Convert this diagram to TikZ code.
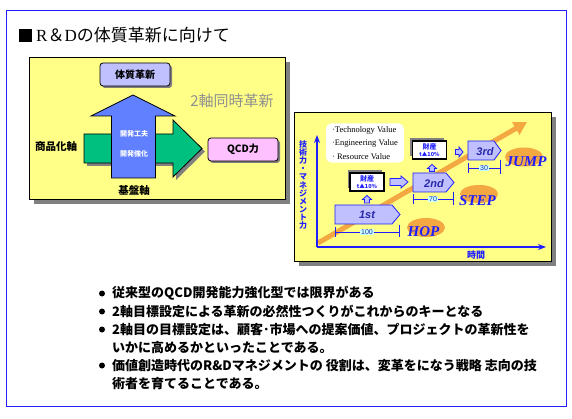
\documentclass[tikz,border=0pt]{standalone}
\usepackage{fontspec}
\setmainfont{Liberation Serif}
\newfontfamily\jp{Noto Sans CJK JP}
\newfontfamily\lsans{Liberation Sans}
\usetikzlibrary{arrows.meta,shadows,calc}
\definecolor{frameblue}{HTML}{2020FF}
\definecolor{panelyellow}{HTML}{FFFF88}
\definecolor{lav}{HTML}{C0C0FF}
\definecolor{pinkfill}{HTML}{FFC0FF}
\definecolor{greenarr}{HTML}{00C080}
\definecolor{bluearr}{HTML}{6080FF}
\definecolor{orangec}{HTML}{F4A842}
\definecolor{shadowgray}{HTML}{808080}
\definecolor{axisblue}{HTML}{1E1EFF}
\definecolor{navy}{HTML}{2828A8}
\definecolor{dimcyan}{HTML}{C8FFFF}
\definecolor{graytext}{HTML}{909090}
\tikzset{
  panel/.style={draw=black, line width=0.8pt, fill=panelyellow},
  boxshadow/.style={drop shadow={shadow xshift=2pt, shadow yshift=-2pt, fill=shadowgray, opacity=1}},
  lavbox/.style={draw=black, line width=0.8pt, fill=lav, rounded corners=3pt,
    minimum width=70pt, minimum height=23pt, boxshadow,
    font=\jp\bfseries\fontsize{10}{12}\selectfont},
  pinkbox/.style={lavbox, fill=pinkfill},
  blacklbl/.style={inner sep=0pt, font=\jp\bfseries\fontsize{10.5}{12}\selectfont},
  whitelbl/.style={inner sep=0pt, text=white, font=\jp\bfseries\fontsize{7}{8}\selectfont},
  graylbl/.style={inner sep=0pt, text=graytext, font=\jp\fontsize{15}{16}\selectfont},
  valbox/.style={fill=white, rounded corners=5pt, align=left, inner xsep=6pt, inner ysep=3pt,
    font=\fontsize{8.5}{13.5}\selectfont},
  axis/.style={draw=axisblue, line width=1.8pt, -{Stealth[length=8pt,width=6pt]}},
  penta/.style={draw=axisblue, line width=0.8pt, fill=lav},
  stagelbl/.style={inner sep=0pt, text=navy, font=\lsans\bfseries\itshape\fontsize{11}{12}\selectfont},
  dimline/.style={draw=axisblue, line width=0.8pt},
  dimlbl/.style={fill=dimcyan, inner sep=1pt, text=navy, font=\lsans\fontsize{7}{7}\selectfont},
  smallbox/.style={draw=black, line width=1.2pt, fill=white, align=center,
    minimum width=34pt, minimum height=18pt, inner sep=1pt, text=axisblue,
    font=\jp\bfseries\fontsize{7}{7.5}\selectfont,
    drop shadow={shadow xshift=-2.5pt, shadow yshift=2.5pt, fill=shadowgray, opacity=1}},
  blockarr/.style={draw=axisblue, line width=0.8pt, fill=lav},
  hopell/.style={fill=orangec},
  hoplbl/.style={inner sep=0pt, text=axisblue, font=\bfseries\itshape\fontsize{15}{16}\selectfont},
  bullettext/.style={anchor=west, inner sep=0pt, font=\jp\bfseries\fontsize{13}{14}\selectfont}
}
\begin{document}
\begin{tikzpicture}[x=1pt,y=-1pt]
\useasboundingbox (0,0) rectangle (572,419);
\fill[white] (0,0) rectangle (572,419);
\draw[frameblue, line width=1pt] (6,11) rectangle (566,406);
% title
\fill[black] (19,29) rectangle (32,42);
\node[anchor=base west, inner sep=0pt, font=\fontsize{17}{20}\selectfont] (title) at (36,42) {R{\jp ＆}D{\jp の体質革新に向けて}};
% ---------- left panel ----------
\fill[shadowgray] (34,62) rectangle (290,204);
\draw[panel] (29,57) rectangle (285,199);
\fill[shadowgray] (87,137) -- (176,137) -- (176,123) -- (205,151.5) -- (176,180) -- (176,166) -- (87,166) -- cycle;
\draw[black, line width=0.8pt, fill=greenarr] (84,134) -- (173,134) -- (173,120) -- (202,148.5) -- (173,177) -- (173,163) -- (84,163) -- cycle;
\draw[black, line width=0.8pt, fill=bluearr] (111.5,178) -- (111.5,116) -- (91,116) -- (133,95) -- (175,116) -- (155.5,116) -- (155.5,178) -- cycle;
\node[lavbox] (taishitsu) at (135,74.5) {体質革新};
\node[pinkbox] (qcd) at (243,149.5) {QCD力};
\node[blacklbl] (shohin) at (56,147) {商品化軸};
\node[blacklbl] (kiban) at (134,191) {基盤軸};
\node[whitelbl] (kufu) at (134,134) {開発工夫};
\node[whitelbl] (kyoka) at (134,154) {開発強化};
\node[graylbl] (doji) at (232,101) {2軸同時革新};
% ---------- right panel ----------
\fill[shadowgray] (299,117) rectangle (556,266);
\draw[panel] (294,112) rectangle (551,261);
\node[valbox] (values) at (365,143) {·Technology Value\\·Engineering Value\\· Resource Value};
% orange growth arrow
\coordinate (ostart) at (318,243);
\coordinate (oend) at (527,122);
\draw[orangec, line width=5pt, -{Triangle[width=14pt,length=13pt]}] (ostart) -- (oend);
% axes
\coordinate (orig) at (317,247);
\coordinate (xend) at (546,247);
\coordinate (yend) at (317,135);
\draw[axis] (orig) -- (xend);
\draw[axis] (orig) -- (yend);
\node[inner sep=0pt, align=center, text=axisblue, font=\jp\bfseries\fontsize{8}{8.1}\selectfont] (ylab) at (303,185) {技\\術\\力\\・\\マ\\ネ\\ジ\\メ\\ン\\ト\\力};
\node[inner sep=0pt, text=axisblue, font=\jp\bfseries\fontsize{9}{9}\selectfont] (jikan) at (476,255) {時間};
% ellipses
\fill[hopell] (426,227.5) ellipse [x radius=19pt, y radius=9.5pt];
\fill[hopell] (479,194) ellipse [x radius=19pt, y radius=9pt];
\fill[hopell] (524,157) ellipse [x radius=19pt, y radius=9.5pt];
% stages
\draw[penta] (335,205) -- (392,205) -- (400,214.5) -- (392,224) -- (335,224) -- cycle;
\node[stagelbl] (first) at (367,215) {1st};
\draw[penta] (413,173) -- (446,173) -- (454,182.5) -- (446,192) -- (413,192) -- cycle;
\node[stagelbl] (second) at (434,184) {2nd};
\draw[penta] (468,141) -- (494,141) -- (501,150.5) -- (494,160) -- (468,160) -- cycle;
\node[stagelbl] (third) at (485,152) {3rd};
% dimensions
\draw[dimline] (335,232) -- (399,232);
\draw[dimline] (335,227) -- (335,237);
\draw[dimline] (399,225) -- (399,237);
\node[dimlbl] (d1) at (367,232) {100};
\draw[dimline] (413,199) -- (453,199);
\draw[dimline] (413,194) -- (413,204);
\draw[dimline] (453,192) -- (453,205);
\node[dimlbl] (d2) at (433,199) {70};
\draw[dimline] (468,168) -- (500,168);
\draw[dimline] (468,163) -- (468,173);
\draw[dimline] (500,160) -- (500,174);
\node[dimlbl] (d3) at (484,168) {30};
% asset boxes
\node[smallbox] (asset1) at (367,182) {財産\\[-1pt]{\fontsize{5.5}{6}\selectfont t▲10\%}};
\node[smallbox] (asset2) at (429.5,150) {財産\\[-1pt]{\fontsize{5.5}{6}\selectfont t▲10\%}};
% block arrows
\draw[blockarr] (390,178.5) -- (401,178.5) -- (401,176) -- (408,182) -- (401,188) -- (401,185.5) -- (390,185.5) -- cycle;
\draw[blockarr] (455.5,149.5) -- (459,149.5) -- (459,147) -- (463,152) -- (459,157) -- (459,154.5) -- (455.5,154.5) -- cycle;
\draw[blockarr] (364.5,203) -- (364.5,199.5) -- (362.5,199.5) -- (367,195.5) -- (371.5,199.5) -- (369.5,199.5) -- (369.5,203) -- cycle;
\draw[blockarr] (429.5,171.5) -- (429.5,168.5) -- (427.5,168.5) -- (432,164.5) -- (436.5,168.5) -- (434.5,168.5) -- (434.5,171.5) -- cycle;
% HOP STEP JUMP
\node[hoplbl] (hop) at (423.5,232) {HOP};
\node[hoplbl] (step) at (477.5,201) {STEP};
\node[hoplbl] (jump) at (526,162) {JUMP};
% ---------- bullets ----------
\foreach \yy in {293.5,311.5,329.5,365.5} \fill[black] (102,\yy) circle [radius=3pt];
\node[bullettext] (t1) at (112,293.5) {従来型のQCD開発能力強化型では限界がある};
\node[bullettext] (t2) at (112,311.5) {2軸目標設定による革新の必然性つくりがこれからのキーとなる};
\node[bullettext] (t3) at (112,329.5) {2軸目の目標設定は、顧客･市場への提案価値、プロジェクトの革新性を};
\node[bullettext] (t3b) at (112,347.5) {いかに高めるかといったことである。};
\node[bullettext] (t4) at (112,365.5) {価値創造時代のR\&Dマネジメントの 役割は、変革をになう戦略 志向の技};
\node[bullettext] (t4b) at (112,383.5) {術者を育てることである。};
\end{tikzpicture}
\end{document}
